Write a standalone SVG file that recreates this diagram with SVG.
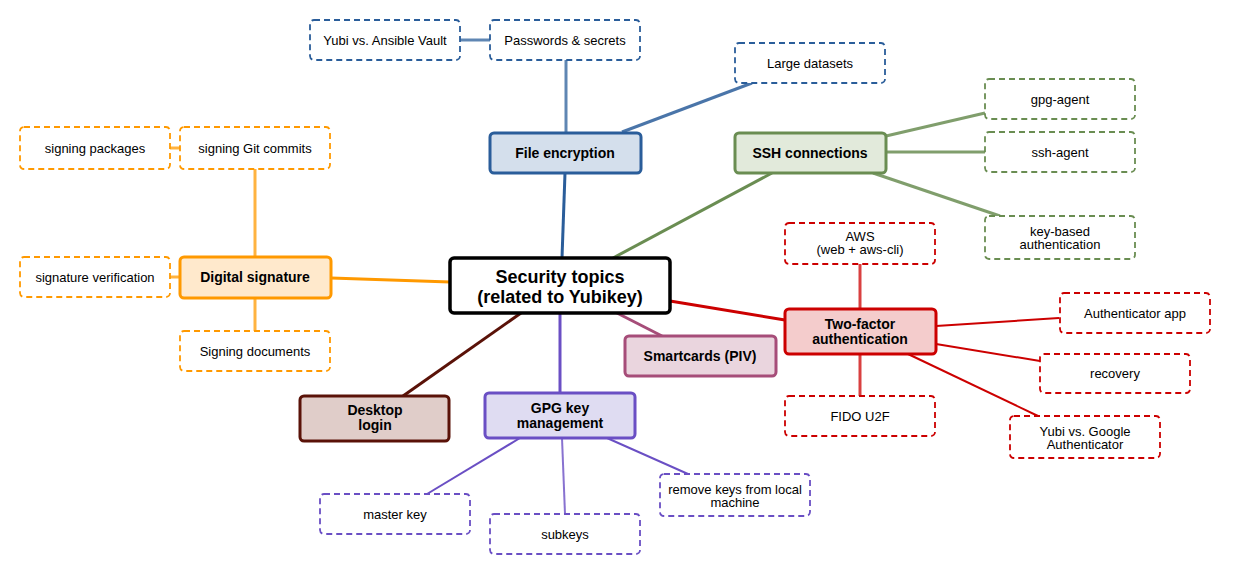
<svg xmlns="http://www.w3.org/2000/svg" width="1234" height="577" viewBox="0 0 1234 577">
<style>
text{font-family:"Liberation Sans",Arial,sans-serif;fill:#000;text-anchor:middle}
.m{font-size:14px;font-weight:bold}
.c{font-size:18px;font-weight:bold}
.s{font-size:13px}
.main{stroke-width:3}
.sub{fill:#fff;stroke-width:1.8;stroke-dasharray:6,4}
.l{fill:none;stroke-width:3}
.l2{fill:none;stroke-width:2}
.blue{stroke:#2a5d9a}.green{stroke:#6a8d52}.red{stroke:#cc0000}.org{stroke:#ff9900}.pur{stroke:#6a4fc4}.pink{stroke:#a64d79}.brown{stroke:#5a1208}
</style>
<rect width="1234" height="577" fill="#fff"/>
<g id="connectors">
<line class="l blue" x1="562" y1="258" x2="565" y2="173"/>
<line class="l blue" x1="566" y1="60" x2="566" y2="132" stroke-opacity="0.75"/>
<line class="l blue" x1="460" y1="40" x2="490" y2="40" stroke-opacity="0.75"/>
<line class="l blue" x1="622" y1="132" x2="752" y2="83" stroke-opacity="0.85"/>
<line class="l green" x1="613" y1="258" x2="772" y2="173"/>
<line class="l green" x1="886" y1="136" x2="985" y2="113" stroke-opacity="0.85"/>
<line class="l green" x1="886" y1="152" x2="985" y2="152" stroke-opacity="0.85"/>
<line class="l green" x1="873" y1="173" x2="1000" y2="216" stroke-opacity="0.85"/>
<line class="l red" x1="670" y1="301" x2="785" y2="320"/>
<line class="l red" x1="860" y1="264" x2="860" y2="309" stroke-opacity="0.75"/>
<line class="l red" x1="860" y1="354" x2="860" y2="396" stroke-opacity="0.75"/>
<line class="l2 red" x1="936" y1="326" x2="1059" y2="318"/>
<line class="l2 red" x1="936" y1="344" x2="1040" y2="361"/>
<line class="l2 red" x1="908" y1="354" x2="1038" y2="416"/>
<line class="l pink" x1="617" y1="313" x2="662" y2="336"/>
<line class="l pur" x1="560" y1="313" x2="560" y2="393"/>
<line class="l brown" x1="521" y1="313" x2="403" y2="396"/>
<line class="l org" x1="450" y1="282" x2="331" y2="278"/>
<line class="l org" x1="255" y1="169" x2="255" y2="257" stroke-opacity="0.75"/>
<line class="l org" x1="170" y1="148" x2="180" y2="148" stroke-opacity="0.75"/>
<line class="l org" x1="170" y1="277" x2="180" y2="277" stroke-opacity="0.75"/>
<line class="l org" x1="255" y1="298" x2="255" y2="331" stroke-opacity="0.75"/>
<line class="l2 pur" x1="520" y1="438" x2="427" y2="494"/>
<line class="l2 pur" x1="562" y1="438" x2="565" y2="514" stroke-opacity="0.8"/>
<line class="l2 pur" x1="607" y1="438" x2="688" y2="474"/>
</g>
<g id="center"><rect x="450" y="258" width="220" height="55" rx="4" fill="#fff" stroke="#000" stroke-width="3.5"/><text class="c" x="560" y="283">Security topics</text><text class="c" x="560" y="303">(related to Yubikey)</text></g>
<g id="file-encryption"><rect class="main blue" x="490" y="133" width="151" height="40" rx="4" fill="#d4dfec"/><text class="m" x="565" y="158">File encryption</text></g>
<g id="passwords"><rect class="sub blue" x="490" y="20" width="150" height="40" rx="4"/><text class="s" x="565" y="45">Passwords &amp; secrets</text></g>
<g id="ansible"><rect class="sub blue" x="310" y="20" width="150" height="40" rx="4"/><text class="s" x="385" y="45">Yubi vs. Ansible Vault</text></g>
<g id="large-datasets"><rect class="sub blue" x="735" y="43" width="150" height="40" rx="4"/><text class="s" x="810" y="68">Large datasets</text></g>
<g id="ssh"><rect class="main green" x="735" y="133" width="151" height="40" rx="4" fill="#e2eadb"/><text class="m" x="810" y="158">SSH connections</text></g>
<g id="gpg-agent"><rect class="sub green" x="985" y="79" width="150" height="40" rx="4"/><text class="s" x="1060" y="104">gpg-agent</text></g>
<g id="ssh-agent"><rect class="sub green" x="985" y="132" width="150" height="40" rx="4"/><text class="s" x="1060" y="157">ssh-agent</text></g>
<g id="key-based"><rect class="sub green" x="985" y="216" width="150" height="43" rx="4"/><text class="s" x="1060" y="236">key-based</text><text class="s" x="1060" y="249">authentication</text></g>
<g id="two-factor"><rect class="main red" x="785" y="309" width="151" height="45" rx="4" fill="#f4cccc"/><text class="m" x="860" y="329">Two-factor</text><text class="m" x="860" y="344">authentication</text></g>
<g id="aws"><rect class="sub red" x="785" y="223" width="150" height="41" rx="4"/><text class="s" x="860" y="241">AWS</text><text class="s" x="860" y="254">(web + aws-cli)</text></g>
<g id="fido"><rect class="sub red" x="785" y="396" width="150" height="40" rx="4"/><text class="s" x="860" y="421">FIDO U2F</text></g>
<g id="auth-app"><rect class="sub red" x="1060" y="293" width="150" height="40" rx="4"/><text class="s" x="1135" y="318">Authenticator app</text></g>
<g id="recovery"><rect class="sub red" x="1040" y="354" width="150" height="39" rx="4"/><text class="s" x="1115" y="378">recovery</text></g>
<g id="yubi-google"><rect class="sub red" x="1010" y="416" width="150" height="42" rx="4"/><text class="s" x="1085" y="436">Yubi vs. Google</text><text class="s" x="1085" y="449">Authenticator</text></g>
<g id="smartcards"><rect class="main pink" x="625" y="336" width="151" height="40" rx="4" fill="#ead5de"/><text class="m" x="700" y="361">Smartcards (PIV)</text></g>
<g id="gpg"><rect class="main pur" x="485" y="393" width="150" height="45" rx="4" fill="#dfdcf2"/><text class="m" x="560" y="413">GPG key</text><text class="m" x="560" y="428">management</text></g>
<g id="master-key"><rect class="sub pur" x="320" y="494" width="150" height="40" rx="4"/><text class="s" x="395" y="519">master key</text></g>
<g id="subkeys"><rect class="sub pur" x="490" y="514" width="150" height="40" rx="4"/><text class="s" x="565" y="539">subkeys</text></g>
<g id="remove-keys"><rect class="sub pur" x="660" y="474" width="150" height="42" rx="4"/><text class="s" x="735" y="494">remove keys from local</text><text class="s" x="735" y="507">machine</text></g>
<g id="desktop"><rect class="main brown" x="300" y="396" width="149" height="45" rx="4" fill="#e0cdc9"/><text class="m" x="375" y="415">Desktop</text><text class="m" x="375" y="430">login</text></g>
<g id="digital-signature"><rect class="main org" x="180" y="257" width="151" height="41" rx="4" fill="#ffe9cc"/><text class="m" x="255" y="282">Digital signature</text></g>
<g id="git-commits"><rect class="sub org" x="180" y="127" width="150" height="42" rx="4"/><text class="s" x="255" y="153">signing Git commits</text></g>
<g id="packages"><rect class="sub org" x="20" y="127" width="150" height="42" rx="4"/><text class="s" x="95" y="153">signing packages</text></g>
<g id="verification"><rect class="sub org" x="20" y="257" width="150" height="40" rx="4"/><text class="s" x="95" y="282">signature verification</text></g>
<g id="documents"><rect class="sub org" x="180" y="331" width="150" height="40" rx="4"/><text class="s" x="255" y="356">Signing documents</text></g>
</svg>
